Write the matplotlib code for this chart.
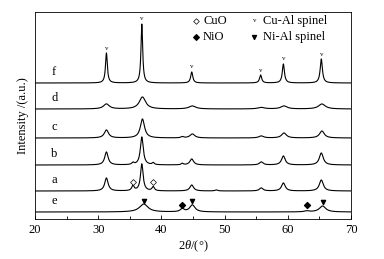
import numpy as np
import matplotlib
matplotlib.use("Agg")
import matplotlib.pyplot as plt

plt.rcParams['font.family'] = ['Liberation Serif', 'DejaVu Serif']
plt.rcParams['mathtext.fontset'] = 'custom'
plt.rcParams['mathtext.it'] = 'Liberation Serif:italic'
plt.rcParams['mathtext.rm'] = 'Liberation Serif'

# pattern labels (bottom to top) and their baseline offsets
labels = ['e', 'a', 'b', 'c', 'd', 'f']
offsets = [7, 28, 54, 81, 110, 136]

# peak positions (2theta), heights and widths per pattern
peaks = {
    'f': ([31.3, 36.9, 44.8, 55.7, 59.3, 65.3], [30, 59, 11, 8, 19, 24], [0.35, 0.32, 0.4, 0.4, 0.4, 0.42]),
    'd': ([31.3, 37.0, 44.9, 55.8, 59.4, 65.4], [5, 12, 3, 1.5, 3, 5], [1.1, 1.2, 1.3, 1.3, 1.2, 1.3]),
    'c': ([31.3, 37.0, 43.3, 44.9, 55.8, 59.4, 65.4], [8, 19, 1.2, 4, 2, 5, 7], [0.8, 0.8, 0.5, 0.9, 0.9, 0.9, 0.9]),
    'b': ([31.3, 35.5, 36.9, 38.7, 43.3, 44.8, 55.8, 59.3, 65.3], [13, 2, 28, 2, 1.5, 6, 3, 9, 12], [0.65, 0.4, 0.55, 0.4, 0.4, 0.7, 0.7, 0.7, 0.75]),
    'a': ([31.3, 35.5, 36.9, 38.7, 44.8, 48.7, 55.8, 59.3, 65.3], [13, 5, 27, 4, 6, 1, 3, 8, 11], [0.65, 0.45, 0.5, 0.45, 0.7, 0.5, 0.7, 0.7, 0.75]),
    'e': ([37.2, 43.3, 44.9, 63.0, 65.5], [8, 3, 7, 1, 6], [1.6, 0.7, 1.0, 0.9, 1.2]),
}

# phase markers: (x, y)
cuo_x = [35.5, 38.7]
cuo_y = [37, 37]
nio_x = [43.3, 63.0]
nio_y = [14, 14]
nial_x = [37.2, 44.9, 65.5]
nial_y = [18, 18, 17]
cual_x = [31.3, 36.9, 44.8, 55.7, 59.3, 65.3]
cual_y = [171, 201, 152, 149, 160, 165]

fig = plt.figure(figsize=(3.84, 2.59), dpi=100)
ax = fig.add_axes([35/384, 1-219/259, 316/384, 207/259])

x = np.linspace(20, 70, 3000)
for lab, off in zip(labels, offsets):
    pos, hts, wid = peaks[lab]
    y = np.full_like(x, float(off))
    for p, h, w in zip(pos, hts, wid):
        g = (w/2)**2 / ((x-p)**2 + (w/2)**2)
        y = y + h*g
    ax.plot(x, y, color='black', lw=0.8)
    ax.text(22.6, off + 5, lab, fontsize=9, ha='left', va='bottom')

ax.scatter(cuo_x, cuo_y, marker='D', s=9, facecolors='white', edgecolors='black', linewidths=0.5, zorder=3)
ax.scatter(nio_x, nio_y, marker='D', s=9, color='black', zorder=3)
ax.scatter(nial_x, nial_y, marker='v', s=9, color='black', zorder=3)
for cx, cy in zip(cual_x, cual_y):
    ax.text(cx, cy, 'v', fontsize=5, ha='center', va='center')

# legend entries
ax.scatter([45.5], [198], marker='D', s=8, facecolors='white', edgecolors='black', linewidths=0.5, clip_on=False)
ax.text(46.6, 198, 'CuO', fontsize=9, va='center')
ax.scatter([45.5], [182], marker='D', s=8, color='black', clip_on=False)
ax.text(46.6, 182, 'NiO', fontsize=9, va='center')
ax.text(54.7, 198, 'v', fontsize=5, ha='center', va='center')
ax.text(56.0, 198, 'Cu-Al spinel', fontsize=9, va='center')
ax.scatter([54.7], [182], marker='v', s=8, color='black')
ax.text(56.0, 182, 'Ni-Al spinel', fontsize=9, va='center')

ax.set_xlim(20, 70)
ax.set_ylim(0, 207)
ax.set_xticks([20, 30, 40, 50, 60, 70])
ax.set_xticks([25, 35, 45, 55, 65], minor=True)
ax.tick_params(axis='x', which='major', direction='in', length=3, labelsize=9, width=0.6)
ax.tick_params(axis='x', which='minor', direction='in', length=2, width=0.6)
ax.set_yticks([])
for s in ax.spines.values():
    s.set_linewidth(0.6)
ax.set_xlabel(r'2$\mathit{\theta}$/(°)', fontsize=9, labelpad=2)
ax.set_ylabel('Intensity /(a.u.)', fontsize=9, labelpad=4)

fig.savefig('out.png', dpi=100)
